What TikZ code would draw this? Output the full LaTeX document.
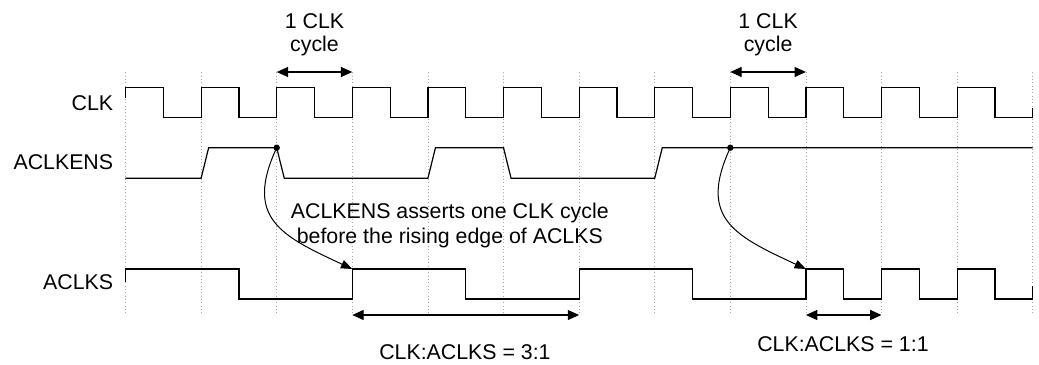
\documentclass[tikz,border=0pt]{standalone}
\usepackage{fontspec}
\setmainfont{Liberation Sans}
\usetikzlibrary{arrows.meta,positioning}

\begin{document}
\begin{tikzpicture}[x=56.7pt,y=0.75pt,
        font=\fontsize{16}{18.75}\selectfont,
        sig/.style={line width=0.9pt},
        gridline/.style={gray!70,dotted,line width=0.5pt},
        dim/.style={line width=0.8pt,{Triangle[length=8.5pt,width=7.5pt]}-{Triangle[length=8.5pt,width=7.5pt]}},
        cause/.style={line width=0.75pt,-{Triangle[length=8.5pt,width=6.5pt]}},
        signame/.style={anchor=east,inner sep=0pt}]
                \useasboundingbox (-1.660,0) rectangle (12.083,364);
                % grid of CLK edges
                \foreach \k in {0,...,12}
                    \draw[gridline] (\k,51) -- (\k,292);
                % signal names
                \node[signame] (CLK)     at (-0.16,260.7) {CLK};
                \node[signame] (ACLKENS) at (-0.16,201.5) {ACLKENS};
                \node[signame] (ACLKS)   at (-0.16,81.5)  {ACLKS};
                % waveforms
                \draw[sig] (0,266) foreach \k in {0,...,11} {
                    -- (\k,276.3) -- (\k+.5,276.3) -- (\k+.5,246.3) -- (\k+1,246.3)} -- (12,256);
                \draw[sig] (0,185.7) -- (1,185.7) -- (1.1,216.3) -- (2,216.3) -- (2.1,185.7)
                    -- (4,185.7) -- (4.1,216.3) -- (5,216.3) -- (5.1,185.7)
                    -- (7,185.7) -- (7.1,216.3) -- (12,216.3);
                \draw[sig] (0,82) -- (0,95) -- (1.5,95) -- (1.5,65) -- (3,65) -- (3,95) -- (4.5,95)
                    -- (4.5,65) -- (6,65) -- (6,95) -- (7.5,95) -- (7.5,65) -- (9,65)
                    foreach \k in {9,10,11} {
                    -- (\k,95) -- (\k+.5,95) -- (\k+.5,65) -- (\k+1,65)} -- (12,78);
                % enable points and ACLKS rising edges
                \coordinate (EN_1) at (2,216.3);
                \coordinate (EN_2) at (8,216.3);
                \coordinate (KS_1) at (3,95);
                \coordinate (KS_2) at (9,95);
                \fill (EN_1) circle (2.4pt) (EN_2) circle (2.4pt);
                % one cycle marks
                \coordinate (C_1) at (2,292); \coordinate (C_2) at (3,292);
                \coordinate (C_3) at (8,292); \coordinate (C_4) at (9,292);
                \path[dim] (C_1) edge (C_2) (C_3) edge (C_4);
                \node[align=center,font=\fontsize{16}{17.5}\selectfont] (cyc_1) at (2.5,329.5) {1 CLK\\cycle};
                \node[align=center,font=\fontsize{16}{17.5}\selectfont] (cyc_2) at (8.5,329.5) {1 CLK\\cycle};
                % ratio marks
                \coordinate (R_1) at (3,49); \coordinate (R_2) at (6,49);
                \coordinate (R_3) at (9,49); \coordinate (R_4) at (10,49);
                \path[dim] (R_1) edge (R_2) (R_3) edge (R_4);
                \node (ratio_1) at (4.49,12.3) {CLK:ACLKS = 3:1};
                \node (ratio_2) at (9.49,19.8) {CLK:ACLKS = 1:1};
                % cause arrows
                \path[cause] (EN_1) edge[out=-115,in=155,looseness=1.4] (KS_1)
                             (EN_2) edge[out=-115,in=155,looseness=1.4] (KS_2);
                \node[align=center] (note) at (4.29,138.7) {ACLKENS asserts one CLK cycle\\before the rising edge of ACLKS};
            \end{tikzpicture}
\end{document}
